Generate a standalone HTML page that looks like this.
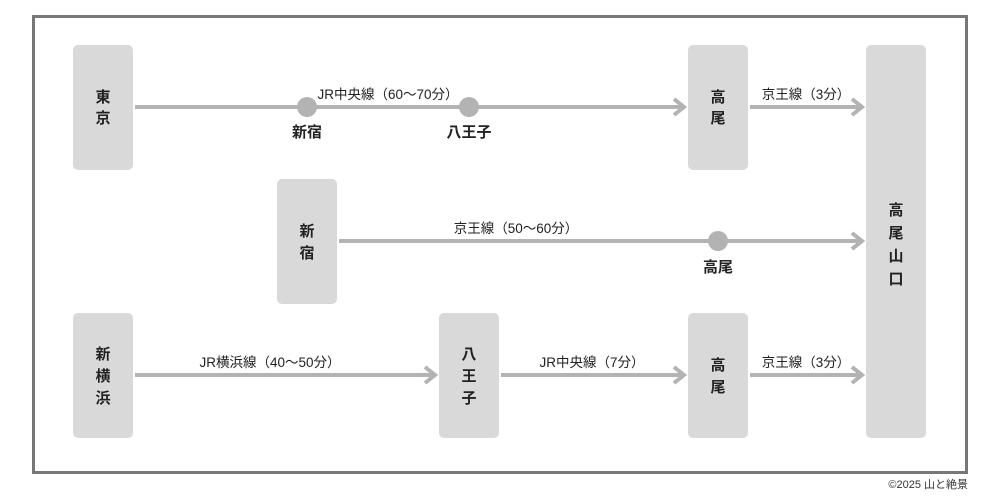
<!DOCTYPE html>
<html><head><meta charset="utf-8"><style>
html,body{margin:0;padding:0;background:#fff;}
svg{display:block;}
text{font-family:"Liberation Sans","Noto Sans CJK JP",sans-serif;fill:#222;}
.b{font-weight:bold;font-size:15px;text-anchor:middle;}
.l{font-size:13.5px;text-anchor:middle;}
</style></head><body>
<svg width="1000" height="500" viewBox="0 0 1000 500">
<rect x="33.5" y="16.5" width="933" height="456" fill="#fff" stroke="#777" stroke-width="3"/>
<g fill="#d9d9d9">
<rect x="73" y="45" width="60" height="125" rx="5"/>
<rect x="688" y="45" width="60" height="125" rx="5"/>
<rect x="866" y="45" width="60" height="393" rx="5"/>
<rect x="277" y="179" width="60" height="125" rx="5"/>
<rect x="73" y="313" width="60" height="125" rx="5"/>
<rect x="439" y="313" width="60" height="125" rx="5"/>
<rect x="688" y="313" width="60" height="125" rx="5"/>
</g>
<g stroke="#b3b3b3" stroke-width="4" fill="none">
<line x1="135" y1="107" x2="684" y2="107"/>
<polyline points="674,99 684,107 674,115"/>
<line x1="750" y1="107" x2="862" y2="107"/>
<polyline points="852,99 862,107 852,115"/>
<line x1="339" y1="241" x2="862" y2="241"/>
<polyline points="852,233 862,241 852,249"/>
<line x1="135" y1="375" x2="435" y2="375"/>
<polyline points="425,367 435,375 425,383"/>
<line x1="501" y1="375" x2="684" y2="375"/>
<polyline points="674,367 684,375 674,383"/>
<line x1="750" y1="375" x2="862" y2="375"/>
<polyline points="852,367 862,375 852,383"/>
</g>
<g fill="#b3b3b3">
<circle cx="307" cy="107" r="10"/>
<circle cx="469" cy="107" r="10"/>
<circle cx="718" cy="241" r="10"/>
</g>
<text class="b" x="103" y="102">東</text><text class="b" x="103" y="123">京</text>
<text class="b" x="718" y="102">高</text><text class="b" x="718" y="123">尾</text>
<text class="b" x="896" y="215">高</text><text class="b" x="896" y="238">尾</text><text class="b" x="896" y="261">山</text><text class="b" x="896" y="284">口</text>
<text class="b" x="307" y="236">新</text><text class="b" x="307" y="258">宿</text>
<text class="b" x="103" y="359">新</text><text class="b" x="103" y="381">横</text><text class="b" x="103" y="403">浜</text>
<text class="b" x="469" y="359">八</text><text class="b" x="469" y="381">王</text><text class="b" x="469" y="403">子</text>
<text class="b" x="718" y="370">高</text><text class="b" x="718" y="392">尾</text>
<text class="b" x="307" y="137">新宿</text>
<text class="b" x="469" y="137">八王子</text>
<text class="b" x="718" y="272">高尾</text>
<text class="l" x="388" y="99">JR中央線（60〜70分）</text>
<text class="l" x="806" y="99">京王線（3分）</text>
<text class="l" x="516" y="233">京王線（50〜60分）</text>
<text class="l" x="270" y="367">JR横浜線（40〜50分）</text>
<text class="l" x="592" y="367">JR中央線（7分）</text>
<text class="l" x="806" y="367">京王線（3分）</text>
<text x="968" y="488" style="font-size:11px;text-anchor:end;fill:#333">©2025 山と絶景</text>
</svg>
</body></html>
